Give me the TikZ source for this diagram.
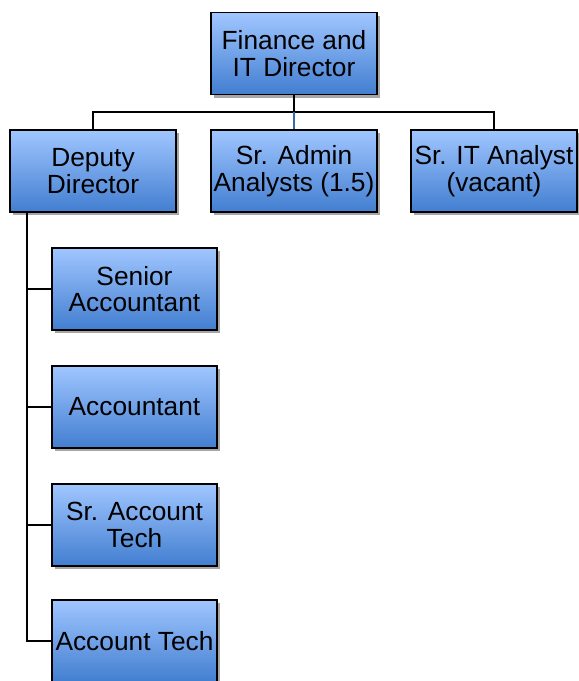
\documentclass[tikz,border=0pt]{standalone}
\usepackage{fontspec}
\setmainfont{Liberation Sans}
\usetikzlibrary{shadows}
\definecolor{boxtop}{RGB}{160,198,255}
\definecolor{boxbot}{RGB}{66,126,208}
\definecolor{linkblue}{RGB}{60,105,165}
\begin{document}
\begin{tikzpicture}[x=1pt,y=-1pt,
  orgbox/.style={draw=black, line width=1.3pt, top color=boxtop, bottom color=boxbot,
    minimum width=166pt, minimum height=82pt, inner sep=0pt, align=center,
    font=\fontsize{26.3}{26.5}\selectfont,
    drop shadow={shadow xshift=3pt, shadow yshift=-3pt, fill=black, opacity=0.35}},
  link/.style={draw=black, line width=1.3pt}]
\useasboundingbox (0,0) rectangle (579,681);
\clip (0,0) rectangle (579,681);

% boxes
\node[orgbox] (top)   at (294,53.5) {Finance and\\IT Director};
\node[orgbox] (dep)   at (93,171)   {Deputy\\Director};
\node[orgbox] (admin) at (294,171)  {Sr. Admin\\Analysts (1.5)};
\node[orgbox] (it)    at (494,171)  {Sr. IT Analyst\\(vacant)};
\node[orgbox, minimum width=165pt] (sacc)  at (134.5,289) {Senior\\Accountant};
\node[orgbox, minimum width=165pt] (acc)   at (134.5,407) {Accountant};
\node[orgbox, minimum width=165pt] (stech) at (134.5,525) {Sr. Account\\Tech};
\node[orgbox, minimum width=165pt] (tech)  at (134.5,641) {Account Tech};

% top-level bus
\coordinate (bus) at (0,112);
\coordinate (spine) at (27,0);
\draw[link] (top.south) -- (top.south |- bus);
\draw[link] (dep.north) -- (dep.north |- bus) -| (it.north);
\draw[draw=linkblue, line width=1.3pt] (admin.north |- bus) -- (admin.north);

% deputy's reports
\draw[link] (dep.south -| spine) -- (tech.west -| spine) -- (tech.west);
\draw[link] (sacc.west -| spine) -- (sacc.west);
\draw[link] (acc.west -| spine) -- (acc.west);
\draw[link] (stech.west -| spine) -- (stech.west);
\end{tikzpicture}
\end{document}
